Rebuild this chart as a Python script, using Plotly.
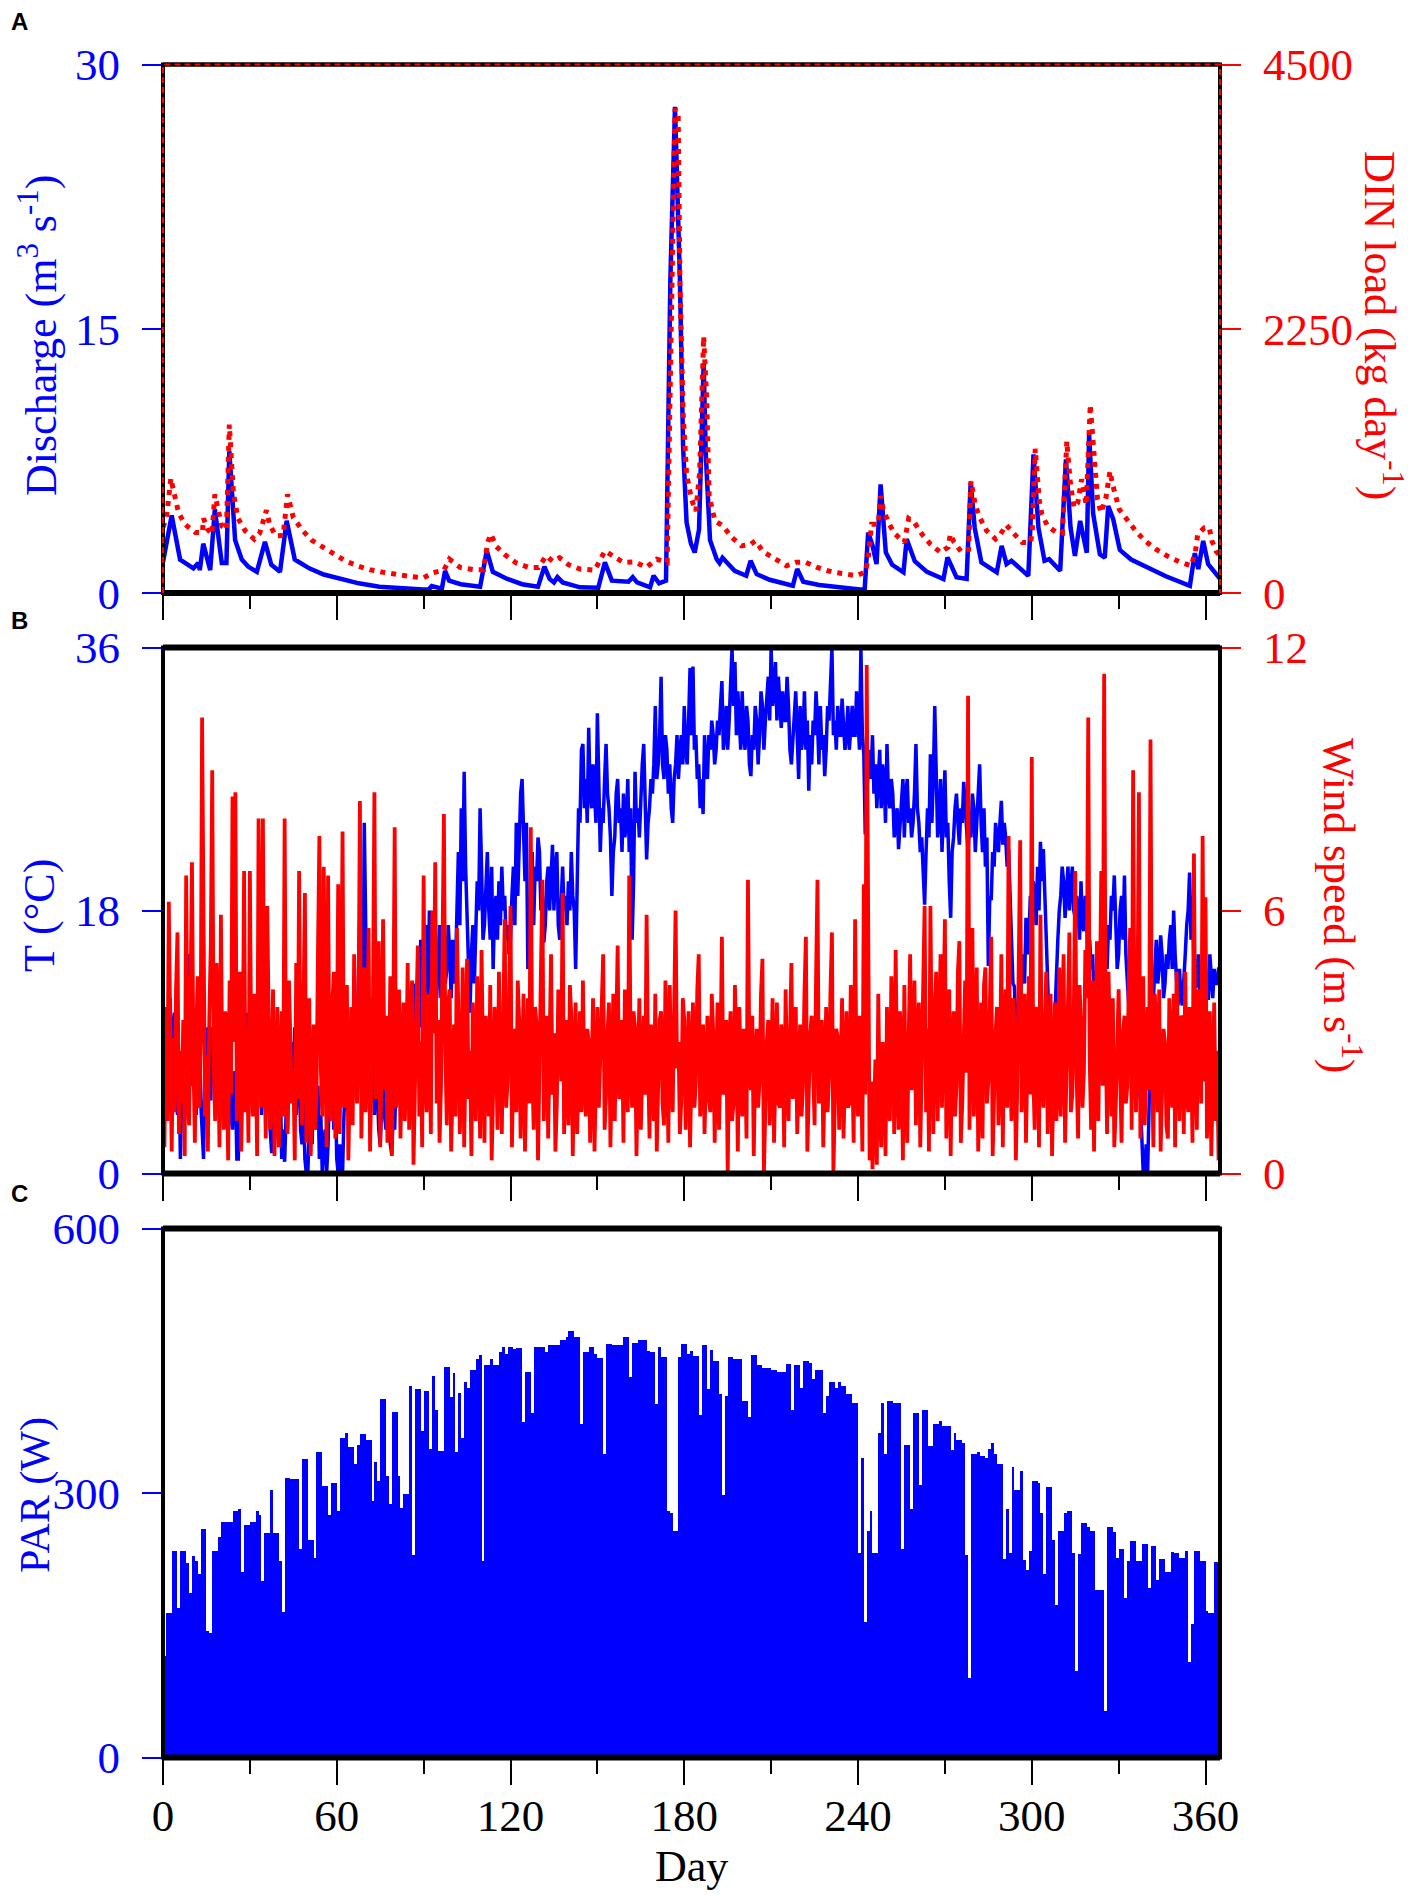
import plotly.graph_objects as go

# ---- panel A: river discharge (m3/s) and DIN load (kg/day), read at turning points
q_day = [0, 3.0, 5.9, 10.5, 12.2, 12.7, 13.9, 16.3, 17.9, 20.3, 21.9, 22.9, 24.9, 27.2, 29.4,
         32.4, 35.2, 37.4, 40.4, 42.7, 45.5, 50.5, 55.5, 61.1, 67.6, 74.7, 82.7, 89.8, 91.8,
         92.8, 96.3, 97.4, 98.8, 102.8, 109.5, 111.8, 113.9, 118.9, 124, 129.5, 131.7, 133.5,
         135, 136.2, 138, 144, 150.3, 152.6, 155, 160.7, 162.2, 163.7, 168.2, 169.4, 171.3,
         173.7, 175.2, 176.8, 178.5, 179.6, 180.8, 182.3, 183.6, 185.1, 186.7, 187.4, 188.9,
         191.2, 192.2, 193.2, 197.4, 201.4, 202.9, 205, 209.5, 217.5, 219, 221.1, 226.6, 233.6,
         240.7, 242.3, 243.5, 245, 246.4, 247.8, 249.6, 251.8, 255.7, 256.8, 259.6, 263.8,
         269.5, 270.9, 274, 277.5, 278.9, 280.3, 282.6, 287.9, 289.6, 291.3, 293, 298.8, 300.6,
         302.3, 304.4, 306, 309.8, 311.8, 313.4, 314.9, 316.7, 319, 319.8, 321.2, 323.5, 325.2,
         326.4, 328.1, 330.4, 334.3, 338.5, 346.3, 354.6, 356.3, 357.5, 359.2, 360.9, 364.3, 365]
q_val = [1.75, 4.4, 1.9, 1.4, 1.7, 1.3, 2.8, 1.3, 4.75, 1.7, 1.7, 8.05, 3.0, 1.9, 1.5,
         1.2, 2.9, 1.6, 1.2, 4.1, 1.9, 1.4, 1.05, 0.8, 0.55, 0.35, 0.25, 0.2, 0.2,
         0.4, 0.25, 1.26, 0.7, 0.5, 0.35, 2.4, 1.2, 0.8, 0.5, 0.35, 1.5, 0.8,
         0.6, 0.9, 0.6, 0.32, 0.3, 1.74, 0.7, 0.64, 0.9, 0.6, 0.32, 0.98, 0.55,
         0.7, 17.8, 27.6, 17.8, 8.3, 4.0, 2.8, 2.3, 3.6, 13.05, 8.0, 3.0,
         1.92, 1.7, 2.0, 1.26, 0.98, 1.83, 1.07, 0.75, 0.41, 1.36, 0.64, 0.45, 0.3,
         0.2, 0.2, 3.43, 2.7, 1.64, 6.17, 2.3, 1.6, 1.17, 3.06, 1.8, 1.2,
         0.79, 2.02, 0.9, 0.8, 6.26, 3.7, 1.74, 1.17, 2.68, 1.64, 1.83, 0.97, 7.87,
         3.7, 1.83, 1.92, 1.26, 7.58, 3.7, 2.1, 4.09, 2.28, 9.0, 4.5, 2.2, 2.0,
         4.94, 4.2, 2.45, 1.9, 1.55, 0.95, 0.41, 2.26, 1.36, 2.96, 1.64, 0.98, 0.8]

din_day = [0, 1.2, 2.7, 5.4, 7.8, 11.2, 13.6, 14, 15.4, 16.9, 17.9, 19.4, 20.3, 21.9, 22.9,
           24.3, 25.9, 28.4, 31.5, 33.4, 35.7, 36.8, 38.9, 41.5, 43, 45, 48.1, 51.3, 55.1,
           59.2, 62.9, 67.1, 71.5, 76.1, 80.7, 85.3, 90, 93.4, 97.1, 98.9, 102.6, 107.3,
           110.7, 112.1, 113.2, 115.1, 118.2, 122, 126.3, 129.7, 132.3, 134.5, 136.9, 140.1,
           144, 149.1, 152.6, 155.5, 158.9, 162.9, 166.9, 170.5, 174.1, 174.8, 175.6, 176.8,
           177.9, 178.5, 179.6, 180.8, 182.5, 184, 185.3, 186.7, 187.7, 188.6, 190.6, 193.4,
           196.4, 199.8, 202.9, 204.5, 207.3, 211.3, 215.3, 218.6, 222, 225.9, 230.8, 234.9,
           239.5, 242.6, 243.5, 244.7, 247, 247.8, 248.7, 250.5, 252.6, 256, 256.6, 257.5,
           259.5, 262.1, 265, 268.5, 271.1, 271.9, 273.1, 275.7, 278.2, 279, 280.5, 281.9,
           284.4, 287.5, 289.2, 291.2, 293.3, 296.7, 299.6, 300.2, 301.2, 302.6, 303.5, 305.4,
           308.3, 310.6, 312.1, 313.3, 314.6, 315.9, 317.2, 318.8, 320.2, 321.4, 322.7, 323.9,
           325.6, 327, 327.9, 330.2, 333.2, 336, 339.1, 342.9, 346.7, 351, 355, 356.5, 357.3,
           359.6, 361.3, 362.2, 363.8, 365]
din_val = [560, 642, 976, 680, 580, 515, 515, 636, 543, 500, 840, 685, 570, 540, 1434,
           849, 636, 529, 458, 510, 704, 585, 486, 490, 840, 642, 535, 450, 393,
           330, 274, 232, 198, 176, 156, 141, 130, 173, 198, 288, 218, 198,
           198, 430, 501, 396, 323, 256, 218, 218, 317, 270, 300, 240,
           204, 195, 359, 313, 261, 265, 218, 288, 261, 1250, 2670, 4122,
           4080, 2670, 1537, 1010, 798, 698, 1024, 2184, 1675, 823, 614, 571,
           473, 401, 415, 444, 351, 288, 232, 261, 261, 218, 181, 165,
           147, 181, 294, 585, 585, 826, 713, 600, 507, 430, 515, 634,
           600, 501, 416, 345, 390, 501, 435, 350, 370, 953, 750, 650,
           530, 460, 501, 580, 520, 430, 430, 543, 1228, 783, 670, 572,
           520, 510, 1293, 940, 727, 770, 968, 750, 1604, 1140, 798, 684,
           810, 1038, 925, 713, 614, 525, 444, 373, 316, 265, 232, 345, 501,
           555, 555, 444, 350, 320]

# ---- panel B: air temperature (degC) and wind speed (m/s), two readings per day
t_val = [
    12, 8, 10, 5, 9, 12, 6, 10, 11, 7, 4, 8, 1, 6, 9, 5, 7, 12, 15, 8,
    6, 10, 9, 4, 7, 11, 5, 3, 1, 8, 6, 10, 8, 5, 10, 7, 6, 9, 8, 4,
    10, 6, 5, 8, 7, 11, 9, 4, 3, 7, 6, 1, 1, 5, 4, 9, 8, 6, 11, 7,
    9, 12, 7, 10, 12, 8, 6, 9, 4, 7, 8, 4, 6, 10, 3, 1.5, 1.5, 5, 7, 4,
    2, 6, 1, 3, 0.8, 4, 3, 7, 6, 9, 6, 10, 4, 7, 8, 3, 2, 5, 1, 0,
    0, 3, 5, 2, 7, 4, 3, 6, 1, 4, 0, 2, 3, 0, 2, 6, 5, 8, 3, 6,
    1, 0, 2, 0, 0, 4, 6, 9, 8, 5, 10, 7, 6, 12, 9, 14, 18, 11, 8, 24,
    16, 10, 7, 12, 5, 9, 4, 7, 6, 3, 2, 5, 7, 4, 3, 6, 5, 2, 1.3, 4,
    3, 7, 9, 6, 8, 11, 10, 7, 6, 9, 11, 8, 9, 13, 12, 9, 14, 10, 16, 12,
    13, 15, 17, 12, 18, 14, 13, 16, 15, 12, 14, 17, 12, 15, 16, 13, 14, 17, 15, 12,
    16, 13, 14, 19, 22, 17, 25, 20, 27.5, 21, 18, 14, 11, 15, 17, 13, 16, 20, 18, 25,
    21, 16, 17, 20, 22, 18, 16, 21, 14, 18, 19, 16, 20, 17, 21, 18, 19, 16, 17, 15,
    16, 19, 21, 17, 24, 19, 22, 26, 27, 22, 20, 24, 14, 18, 19, 22, 17, 21, 20, 23,
    22, 18, 19, 15.8, 17, 20, 21, 18, 20, 22.5, 18, 21, 22, 17, 16, 19, 21, 18, 19, 17,
    20, 18, 22, 19, 18, 14, 20, 25, 24, 29, 29.4, 25, 27, 24, 30.5, 26, 25, 28, 26, 24,
    31.5, 27, 22, 25, 24, 27, 29.4, 26, 25, 23, 19, 22, 23, 26, 27, 24, 25, 22, 26, 23,
    24, 27, 22, 25, 16, 20, 27.5, 24, 25, 23, 26, 28, 29.4, 25, 21.5, 24, 25, 27, 26, 28,
    32, 27, 28, 30, 34, 28, 27, 30, 29, 26, 28, 25, 24, 27, 28, 30, 27, 29, 30, 28,
    32, 29, 28, 31, 34.6, 30, 34.7, 29, 30, 27, 28, 25, 27, 24.6, 30, 28, 27, 30, 29, 31,
    30, 28, 29, 31, 30, 32, 33.7, 29, 30, 32, 29, 31, 33, 36, 32, 35, 30, 33, 31, 29,
    33, 30, 29, 32, 31, 28, 27.2, 30, 29, 32, 31, 28, 30, 33, 32, 29, 31, 33, 34, 31,
    36, 32, 33, 35, 31, 34, 32, 30.5, 33, 31, 31, 34, 32, 29, 28, 30, 31, 33, 30, 27,
    32, 29, 30, 33, 29, 31, 26.2, 30, 28, 31, 30, 33, 31, 28, 32, 29, 30, 27.2, 29, 32,
    31, 33, 36, 30, 31, 29, 32, 30, 30, 32.5, 31, 29, 30, 32, 29, 31, 32, 30, 30, 33,
    31, 29, 36, 30, 28.7, 23.2, 26, 28, 29, 27, 30, 26, 28, 25, 27, 29, 25, 28, 27, 24,
    29.4, 26, 25, 27, 26, 23, 24, 25, 22.2, 24, 25, 27, 23, 26, 27, 24, 25, 23, 24, 26,
    29.4, 25, 24, 22, 23, 20, 18.4, 22, 25, 23, 28.7, 24, 27, 32, 26, 23, 24, 27, 22, 25,
    27.6, 23, 24, 20, 17.5, 22, 23, 25, 26, 24, 22.5, 25, 24, 26.8, 25, 23, 22, 24, 23, 26,
    25, 22, 24, 27, 28, 24, 22, 25, 21, 23, 14.2, 19, 18.7, 22, 21, 24, 23, 22, 24, 25.5,
    22.5, 24, 23, 21, 22.2, 19, 16, 13, 12.8, 10, 9, 12, 11, 14, 15, 13, 17.5, 15, 16, 19,
    18, 20, 19, 17, 21, 18, 22.7, 20, 22.2, 19, 16, 12, 9, 7, 5.8, 8.7, 11, 14, 16, 18,
    19, 21, 20, 17.5, 19, 21, 18, 20, 21, 18, 17.5, 19, 18, 16, 20, 17, 16.6, 19, 17, 15,
    16, 14, 15, 12, 13, 10, 11, 9, 7.7, 13.2, 12, 15, 14, 17, 16, 19, 18, 20.4, 17, 14,
    15, 18, 19, 16, 20.4, 15, 13.2, 11.5, 12, 14, 10, 13, 12, 9, 7, 5, 3, 0, 0, 2,
    0, 6, 9, 12, 12, 14, 16, 13, 14, 16.3, 15, 12, 13, 15, 14, 16, 17, 14, 18, 15,
    13, 11.5, 14, 12, 11.5, 13, 15, 17, 18, 20.6, 16, 19, 14, 12.7, 13, 15, 12, 14, 11, 13,
    14, 12, 12, 15, 13.4, 12, 14, 13, 13, 14,
    14]

wind_val = [
    2.5, 0.6, 3.8, 1.2, 6.2, 2.0, 0.5, 3.1, 1.4, 4.2, 5.5, 0.9, 2.8, 1.6, 3.5, 0.4, 6.8, 2.2, 1.1, 4.0,
    7.1, 2.6, 0.7, 3.3, 4.5, 1.5, 3.0, 10.4, 4.0, 1.3, 2.7, 0.5, 3.6, 5.2, 9.2, 2.5, 1.2, 4.8, 3.1, 0.6,
    5.9, 2.0, 1.0, 3.7, 2.4, 0.3, 4.4, 1.8, 8.6, 3.0, 8.7, 1.2, 2.9, 4.6, 0.5, 2.2, 6.9, 1.4, 3.3, 0.7,
    6.9, 2.5, 1.3, 4.1, 2.8, 0.4, 8.1, 3.2, 1.5, 8.1, 2.6, 0.8, 6.1, 3.5, 1.0, 2.3, 4.2, 0.4, 2.0, 3.8,
    0.6, 2.9, 3.7, 1.3, 8.1, 2.1, 0.9, 4.4, 3.3, 1.6, 2.4, 0.3, 4.8, 1.7, 6.9, 2.3, 1.1, 3.6, 6.4, 0.7,
    2.7, 4.0, 0.4, 2.2, 3.4, 1.0, 1.8, 5.0, 7.7, 2.4, 1.3, 7.0, 3.2, 0.6, 6.8, 2.0, 1.2, 3.9, 4.6, 0.8,
    2.5, 6.6, 0.9, 3.1, 7.8, 1.5, 2.9, 4.3, 0.3, 2.6, 3.8, 1.1, 5.0, 2.4, 1.6, 3.5, 8.5, 0.8, 3.0, 4.7,
    1.4, 2.8, 5.6, 0.5, 2.2, 3.9, 8.7, 1.7, 3.4, 5.3, 0.6, 2.5, 5.8, 1.9, 3.6, 0.7, 2.1, 4.5, 0.4, 3.0,
    7.9, 1.5, 2.7, 4.2, 0.8, 3.1, 3.9, 1.2, 2.3, 4.8, 1.0, 3.3, 4.4, 0.2, 2.6, 3.7, 5.2, 1.3, 3.0, 0.6,
    6.8, 2.4, 1.4, 4.1, 2.9, 0.9, 6.0, 3.2, 7.1, 1.6, 3.5, 0.7, 2.0, 4.6, 8.2, 2.8, 1.1, 3.9, 4.2, 0.5,
    2.4, 3.4, 1.3, 5.6, 3.6, 0.9, 2.2, 4.7, 0.6, 3.0, 4.9, 1.7, 2.8, 0.4, 3.9, 2.3, 1.2, 4.5, 3.3, 0.8,
    5.1, 2.6, 0.7, 3.6, 2.5, 1.3, 4.3, 0.3, 1.9, 3.8, 3.0, 1.0, 4.6, 2.4, 0.9, 3.5, 5.8, 1.5, 2.1, 4.0,
    6.1, 0.6, 2.7, 3.3, 1.4, 4.4, 3.5, 0.8, 2.3, 4.1, 0.5, 3.0, 4.0, 1.6, 7.9, 2.5, 1.0, 3.8, 3.4, 0.3,
    2.0, 4.6, 6.7, 1.2, 2.9, 3.6, 0.8, 2.5, 5.0, 1.8, 3.2, 0.5, 1.6, 4.2, 3.8, 2.1, 6.4, 0.9, 2.4, 3.5,
    1.1, 4.3, 3.6, 0.4, 2.5, 3.9, 0.9, 2.7, 3.7, 1.4, 4.4, 2.2, 1.3, 3.3, 3.0, 0.7, 2.2, 4.0, 0.5, 2.9,
    3.8, 1.5, 2.6, 3.6, 5.0, 1.0, 1.8, 3.2, 3.9, 0.6, 2.3, 4.1, 1.2, 2.8, 5.2, 1.7, 2.0, 3.5, 0.7, 4.2,
    3.1, 1.4, 6.8, 2.5, 1.5, 3.7, 3.3, 0.4, 2.4, 4.0, 1.0, 2.9, 3.6, 1.8, 5.9, 2.6, 0.8, 3.4, 2.7, 1.2,
    4.1, 0.5, 2.0, 3.5, 3.7, 1.6, 1.1, 4.4, 2.9, 0.7, 4.3, 2.1, 1.4, 3.3, 6.0, 2.4, 3.0, 0.9, 1.7, 4.0,
    3.5, 1.0, 2.3, 3.7, 0.6, 2.8, 3.9, 1.5, 2.1, 4.2, 5.0, 1.3, 2.6, 3.4, 0.9, 2.4, 3.6, 1.7, 1.4, 4.1,
    3.2, 0.7, 2.5, 3.9, 1.0, 2.6, 5.4, 1.8, 2.2, 3.5, 0.0, 2.9, 3.7, 1.2, 1.6, 4.3, 2.9, 0.5, 3.8, 2.2,
    1.3, 3.3, 2.7, 0.8, 6.7, 2.4, 1.9, 3.6, 0.4, 2.5, 3.3, 1.5, 2.1, 4.1, 4.9, 0.0, 1.8, 3.0, 3.5, 1.1,
    2.4, 4.0, 0.7, 2.8, 3.9, 1.6, 1.5, 3.4, 2.8, 0.6, 4.2, 2.3, 1.2, 3.1, 4.8, 1.7, 2.6, 3.8, 0.9, 2.5,
    3.4, 1.3, 2.0, 4.1, 5.4, 0.5, 1.7, 3.2, 3.6, 2.1, 1.1, 4.4, 6.7, 1.6, 2.5, 3.5, 0.6, 2.7, 3.8, 1.4,
    2.2, 4.2, 5.5, 0.0, 1.9, 3.3, 3.1, 1.0, 2.4, 4.0, 0.8, 2.6, 3.7, 1.5, 1.6, 4.3, 2.9, 0.7, 5.8, 2.0,
    1.3, 3.6, 3.0, 0.5, 6.6, 1.8, 11.6, 3.2, 0.3, 2.1, 0.1, 1.3, 2.6, 0.2, 4.1, 1.5, 0.6, 3.0, 2.3, 0.4,
    3.8, 1.7, 1.2, 4.5, 3.4, 0.9, 5.1, 2.2, 1.0, 3.7, 2.8, 0.3, 4.3, 1.6, 0.7, 3.1, 5.0, 1.9, 2.4, 4.4,
    1.1, 3.0, 3.9, 0.6, 2.2, 4.8, 6.1, 1.4, 3.3, 0.5, 6.1, 2.6, 0.9, 3.8, 4.6, 1.2, 2.7, 5.0, 1.5, 3.3,
    5.8, 0.8, 2.4, 4.2, 0.4, 2.9, 3.7, 1.3, 2.0, 4.6, 5.3, 0.7, 1.6, 3.5, 4.4, 2.3, 10.9, 1.0, 3.2, 5.6,
    1.3, 2.8, 4.7, 0.5, 2.5, 3.9, 0.8, 4.3, 4.7, 1.6, 2.1, 3.6, 5.4, 0.4, 1.9, 3.2, 3.8, 1.1, 2.4, 5.0,
    0.6, 3.4, 4.2, 1.5, 7.7, 2.6, 1.2, 4.0, 3.5, 0.3, 2.0, 5.2, 7.6, 1.4, 3.1, 4.1, 0.7, 2.7, 4.5, 1.8,
    9.5, 2.3, 1.0, 3.8, 3.6, 0.6, 5.9, 2.4, 1.5, 3.3, 4.6, 0.9, 2.7, 4.1, 0.4, 3.0, 3.9, 1.2, 2.2, 4.7,
    1.3, 3.5, 5.0, 0.7, 2.6, 3.9, 5.5, 1.4, 1.8, 3.6, 6.9, 2.2, 0.8, 4.3, 3.4, 1.5, 2.3, 5.1, 4.0, 10.4,
    2.6, 1.0, 4.4, 0.5, 3.1, 5.3, 1.2, 3.8, 6.9, 2.0, 11.4, 3.4, 0.9, 4.6, 2.8, 1.3, 4.0, 0.6, 1.5, 3.5,
    4.2, 2.4, 0.7, 3.2, 3.6, 1.6, 2.0, 4.4, 5.6, 1.0, 9.2, 2.7, 1.4, 3.9, 8.7, 0.8, 2.5, 4.5, 1.1, 3.0,
    3.8, 1.9, 9.9, 2.6, 0.6, 4.1, 3.2, 1.4, 4.2, 0.5, 1.7, 3.3, 3.0, 1.1, 0.8, 4.0, 2.6, 1.5, 4.1, 0.6,
    4.6, 2.3, 1.2, 3.6, 3.5, 0.9, 4.6, 2.0, 1.4, 3.8, 2.9, 0.7, 7.3, 2.4, 1.0, 4.2, 3.4, 1.6, 7.7, 2.1,
    6.3, 0.8, 2.3, 3.7, 0.4, 3.0, 3.9, 1.2, 2.8, 0.3,
    3.0]

# ---- panel C: daily maximum PAR (W)
par_val = [
    116, 164, 164, 235, 235, 170, 235, 235, 221, 187,
    229, 223, 209, 260, 260, 144, 142, 235, 235, 251,
    268, 268, 268, 268, 280, 280, 282, 211, 264, 264,
    268, 268, 280, 276, 201, 255, 255, 304, 255, 255,
    223, 166, 318, 318, 316, 316, 316, 237, 339, 339,
    247, 247, 227, 347, 347, 308, 308, 276, 312, 312,
    280, 363, 363, 369, 353, 353, 334, 355, 368, 368,
    361, 361, 292, 336, 314, 407, 407, 320, 288, 392,
    392, 320, 284, 299, 299, 422, 230, 419, 419, 371,
    416, 416, 351, 433, 395, 348, 348, 444, 444, 409,
    437, 347, 414, 363, 427, 420, 440, 440, 452, 457,
    223, 446, 446, 452, 446, 446, 460, 466, 458, 466,
    466, 464, 465, 465, 381, 438, 438, 391, 466, 466,
    466, 466, 460, 469, 469, 468, 468, 474, 474, 478,
    484, 484, 478, 478, 379, 460, 460, 466, 466, 458,
    454, 454, 345, 470, 470, 468, 468, 468, 468, 478,
    478, 432, 471, 471, 474, 474, 474, 462, 460, 460,
    401, 466, 455, 455, 280, 278, 257, 257, 455, 470,
    470, 458, 462, 456, 456, 389, 468, 468, 418, 463,
    450, 450, 413, 298, 411, 455, 455, 452, 452, 452,
    405, 405, 387, 457, 457, 446, 446, 442, 442, 442,
    440, 440, 438, 438, 438, 447, 447, 395, 446, 446,
    420, 450, 450, 448, 430, 440, 440, 440, 391, 411,
    426, 426, 420, 427, 422, 422, 413, 413, 403, 403,
    233, 340, 154, 257, 280, 233, 233, 369, 403, 345,
    405, 405, 403, 403, 403, 237, 355, 355, 282, 391,
    391, 310, 395, 395, 354, 354, 379, 379, 382, 376,
    376, 376, 349, 369, 361, 361, 357, 230, 91, 345,
    345, 347, 343, 343, 340, 351, 357, 345, 334, 334,
    226, 282, 233, 330, 304, 304, 326, 225, 213, 235,
    314, 314, 312, 278, 209, 307, 307, 247, 174, 257,
    257, 278, 280, 280, 233, 99, 231, 266, 266, 262,
    257, 257, 191, 191, 191, 53, 262, 262, 256, 227,
    237, 237, 182, 223, 246, 246, 223, 223, 243, 243,
    193, 241, 241, 202, 226, 226, 211, 211, 234, 233,
    233, 227, 227, 235, 109, 152, 235, 235, 223, 223,
    167, 164, 164, 222, 222, 222]

day_ticks = [0, 60, 120, 180, 240, 300, 360]
day_minor = [30, 90, 150, 210, 270, 330]

BLUE = "#0000ff"
RED = "#ff0000"
SERIF = "Liberation Serif"

# the page body adds an 8px margin, so the figure is 8px smaller than the window
PAD = 8
W, H = 1417 - PAD, 1895 - PAD


def fx(px):
    return (px - PAD) / W


def fy(py):
    return 1 - (py - PAD) / H


X0, X1 = fx(163), fx(1220)
dom_a = [fy(593), fy(64.5)]
dom_b = [fy(1173.5), fy(647.5)]
dom_c = [fy(1757.5), fy(1228.5)]

t_day = [i * 0.5 for i in range(len(t_val))]
wind_day = [i * 0.5 for i in range(len(wind_val))]
par_day = list(range(len(par_val)))

fig = go.Figure()
fig.add_trace(go.Scatter(x=q_day, y=q_val, mode="lines",
                         line=dict(color=BLUE, width=4.5), xaxis="x", yaxis="y"))
fig.add_trace(go.Scatter(x=din_day, y=din_val, mode="lines",
                         line=dict(color=RED, width=5, dash="5px,6px"), xaxis="x", yaxis="y2"))
fig.add_trace(go.Scatter(x=t_day, y=t_val, mode="lines",
                         line=dict(color=BLUE, width=3.5), xaxis="x2", yaxis="y3"))
fig.add_trace(go.Scatter(x=wind_day, y=wind_val, mode="lines",
                         line=dict(color=RED, width=3.8), xaxis="x2", yaxis="y4"))
fig.add_trace(go.Bar(x=par_day, y=par_val, width=1, offset=0,
                     marker=dict(color=BLUE, line=dict(width=0)), xaxis="x3", yaxis="y5"))


def xax(anchor, labels):
    return dict(domain=[X0, X1], range=[0, 365], anchor=anchor, showgrid=False, zeroline=False,
                showline=False, automargin=False, ticks="outside", tickvals=day_ticks,
                ticklen=26, tickwidth=2, tickcolor="black", showticklabels=labels,
                tickfont=dict(family=SERIF, size=45, color="black"), ticklabelstandoff=-8,
                minor=dict(ticks="outside", tickvals=day_minor, ticklen=15, tickwidth=2,
                           tickcolor="black"))


def yax(dom, rng, vals, color, anchor, side="left", overlay=None):
    d = dict(range=rng, tickvals=vals, anchor=anchor, side=side, showgrid=False,
             zeroline=False, showline=False, automargin=False, ticks="outside", ticklen=20,
             tickwidth=2, tickcolor=color, tickfont=dict(family=SERIF, size=45, color=color),
             ticklabelstandoff=13)
    if overlay:
        d["overlaying"] = overlay
    else:
        d["domain"] = dom
    return d


fig.update_layout(
    width=W, height=H, margin=dict(l=0, r=0, t=0, b=0, autoexpand=False),
    paper_bgcolor="white", plot_bgcolor="white", showlegend=False, bargap=0,
    xaxis=xax("y", False), xaxis2=xax("y3", False), xaxis3=xax("y5", True),
    yaxis=yax(dom_a, [0, 30], [0, 15, 30], BLUE, "x"),
    yaxis2=yax(None, [0, 4500], [0, 2250, 4500], RED, "x", "right", "y"),
    yaxis3=yax(dom_b, [0, 36], [0, 18, 36], BLUE, "x2"),
    yaxis4=yax(None, [0, 12], [0, 6, 12], RED, "x2", "right", "y3"),
    yaxis5=yax(dom_c, [0, 600], [0, 300, 600], BLUE, "x3"),
)

# panel frames: thin sides, heavy top/bottom
for dom, top_w in [(dom_a, 4), (dom_b, 6), (dom_c, 6)]:
    fig.add_shape(type="rect", xref="paper", yref="paper", x0=X0, x1=X1, y0=dom[0], y1=dom[1],
                  line=dict(color="black", width=4))
    fig.add_shape(type="line", xref="paper", yref="paper", x0=X0, x1=X1, y0=dom[0], y1=dom[0],
                  line=dict(color="black", width=6))
    fig.add_shape(type="line", xref="paper", yref="paper", x0=X0, x1=X1, y0=dom[1], y1=dom[1],
                  line=dict(color="black", width=top_w))
# red dashes sitting on the frame of panel A
fig.add_shape(type="path", xref="paper", yref="paper",
              path=f"M {X0} {dom_a[0]} L {X0} {dom_a[1]} L {X1} {dom_a[1]} L {X1} {dom_a[0]}",
              line=dict(color=RED, width=2, dash="6px,4px"))

notes = [
    ("<b>A</b>", 9, 21, 0, "black", "Liberation Sans", 24, "left"),
    ("<b>B</b>", 9, 620, 0, "black", "Liberation Sans", 24, "left"),
    ("<b>C</b>", 9, 1193, 0, "black", "Liberation Sans", 24, "left"),
    ("Discharge (m<sup>3</sup> s<sup>-1</sup>)", 38, 336, -90, BLUE, SERIF, 44, "center"),
    ("DIN load (kg day<sup>-1</sup>)", 1383, 325, 90, RED, SERIF, 44, "center"),
    ("T (°C)", 39, 916, -90, BLUE, SERIF, 44, "center"),
    ("Wind speed (m s<sup>-1</sup>)", 1342, 906, 90, RED, SERIF, 44, "center"),
    ("PAR (W)", 35, 1495, -90, BLUE, SERIF, 42, "center"),
    ("Day", 691, 1866, 0, "black", SERIF, 44, "center"),
]
for text, px, py, ang, col, fam, size, xa in notes:
    fig.add_annotation(text=text, xref="paper", yref="paper", x=fx(px), y=fy(py),
                       xanchor=xa, yanchor="middle", textangle=ang, showarrow=False,
                       font=dict(family=fam, size=size, color=col))

fig.write_html("out.html")
